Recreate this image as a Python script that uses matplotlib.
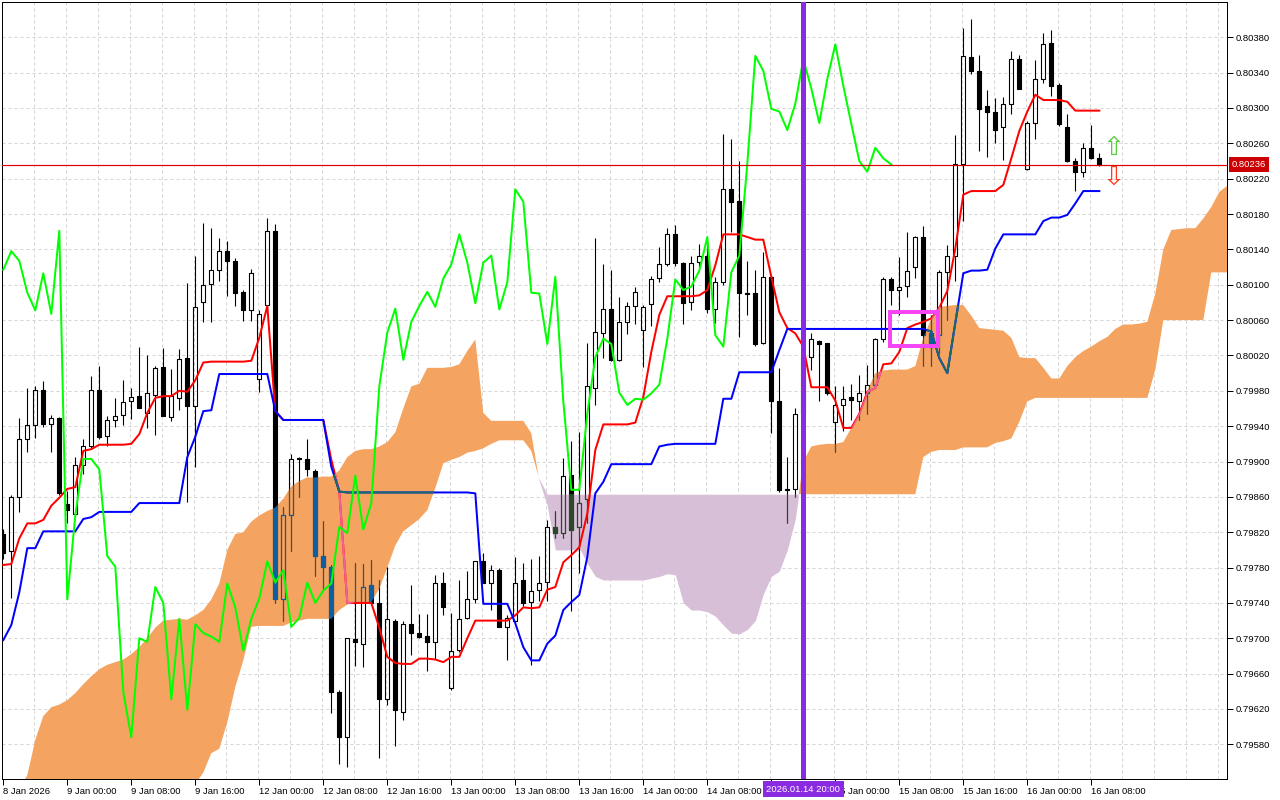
import numpy as np
import matplotlib
matplotlib.use("Agg")
import matplotlib.pyplot as plt
from matplotlib.collections import LineCollection, PolyCollection
from matplotlib.path import Path
from matplotlib.patches import Rectangle
import matplotlib.transforms as mtransforms

# ---------------- data (H1 bars, index 0 = 8 Jan 2026 16:00) ----------------
opens = [0.79818, 0.79799, 0.79860, 0.79926, 0.79941, 0.79981, 0.79943, 0.79949, 0.79852, 0.79841,
         0.79896, 0.79917, 0.79981, 0.79929, 0.79947, 0.79953, 0.79968, 0.79974, 0.79955, 0.79975,
         0.80007, 0.79950, 0.79972, 0.80017, 0.79963, 0.80081, 0.80101, 0.80117, 0.80138, 0.80127,
         0.80092, 0.80071, 0.79993, 0.80077, 0.80161, 0.79744, 0.79839, 0.79904, 0.79903, 0.79889,
         0.79793, 0.79781, 0.79639, 0.79588, 0.79699, 0.79694, 0.79760, 0.79740, 0.79631, 0.79720,
         0.79617, 0.79716, 0.79706, 0.79703, 0.79696, 0.79762, 0.79644, 0.79687, 0.79723, 0.79745,
         0.79787, 0.79763, 0.79777, 0.79713, 0.79719, 0.79766, 0.79741, 0.79755, 0.79764, 0.79826,
         0.79819, 0.79885, 0.79826, 0.79858, 0.79983, 0.80045, 0.80073, 0.80015, 0.80058, 0.80076,
         0.80049, 0.80078, 0.80108, 0.80123, 0.80157, 0.80125, 0.80080, 0.80126, 0.80133, 0.80072,
         0.80103, 0.80208, 0.80195, 0.80091, 0.80091, 0.80034, 0.80109, 0.79968, 0.79869, 0.79869,
         0.79954, 0.80018, 0.80036, 0.80034, 0.79945, 0.79964, 0.79973, 0.79969, 0.79977, 0.79987,
         0.80039, 0.80106, 0.80094, 0.80099, 0.80120, 0.80154, 0.80045, 0.80043, 0.80114, 0.80132,
         0.80237, 0.80358, 0.80342, 0.80302, 0.80296, 0.80278, 0.80305, 0.80355, 0.80231, 0.80283,
         0.80333, 0.80374, 0.80326, 0.80279, 0.80240, 0.80228, 0.80255, 0.80243]
highs = [0.79824, 0.79862, 0.79949, 0.79983, 0.79986, 0.79991, 0.79953, 0.79950, 0.79867, 0.79905,
         0.79926, 0.79997, 0.80008, 0.79952, 0.79972, 0.79992, 0.79983, 0.80030, 0.80021, 0.80008,
         0.80028, 0.80005, 0.80027, 0.80102, 0.80133, 0.80170, 0.80164, 0.80153, 0.80150, 0.80130,
         0.80094, 0.80118, 0.80071, 0.80175, 0.80169, 0.79849, 0.79908, 0.79905, 0.79925, 0.79892,
         0.79833, 0.79783, 0.79641, 0.79700, 0.79785, 0.79784, 0.79789, 0.79766, 0.79781, 0.79722,
         0.79720, 0.79760, 0.79728, 0.79727, 0.79772, 0.79775, 0.79729, 0.79766, 0.79776, 0.79788,
         0.79797, 0.79783, 0.79779, 0.79726, 0.79792, 0.79785, 0.79790, 0.79793, 0.79834, 0.79844,
         0.79904, 0.79923, 0.79933, 0.80034, 0.80153, 0.80123, 0.80117, 0.80086, 0.80080, 0.80098,
         0.80077, 0.80110, 0.80143, 0.80164, 0.80168, 0.80126, 0.80132, 0.80146, 0.80152, 0.80109,
         0.80271, 0.80265, 0.80240, 0.80127, 0.80117, 0.80137, 0.80111, 0.80006, 0.79905, 0.79961,
         0.80030, 0.80045, 0.80037, 0.80034, 0.79985, 0.79985, 0.79988, 0.79998, 0.80009, 0.80040,
         0.80109, 0.80109, 0.80131, 0.80160, 0.80155, 0.80167, 0.80066, 0.80117, 0.80145, 0.80269,
         0.80391, 0.80401, 0.80360, 0.80320, 0.80311, 0.80312, 0.80365, 0.80360, 0.80285, 0.80354,
         0.80385, 0.80388, 0.80328, 0.80293, 0.80243, 0.80260, 0.80281, 0.80249]
lows = [0.79790, 0.79746, 0.79843, 0.79911, 0.79927, 0.79939, 0.79911, 0.79862, 0.79830, 0.79841,
        0.79886, 0.79915, 0.79926, 0.79917, 0.79939, 0.79941, 0.79948, 0.79960, 0.79938, 0.79930,
        0.79951, 0.79946, 0.79958, 0.79854, 0.79894, 0.80058, 0.80058, 0.80104, 0.80087, 0.80076,
        0.80059, 0.80059, 0.79979, 0.80070, 0.79740, 0.79720, 0.79799, 0.79860, 0.79884, 0.79771,
        0.79756, 0.79616, 0.79558, 0.79554, 0.79669, 0.79667, 0.79738, 0.79564, 0.79625, 0.79578,
        0.79608, 0.79681, 0.79700, 0.79663, 0.79677, 0.79726, 0.79641, 0.79684, 0.79722, 0.79740,
        0.79762, 0.79732, 0.79713, 0.79675, 0.79717, 0.79737, 0.79670, 0.79742, 0.79742, 0.79813,
        0.79814, 0.79731, 0.79774, 0.79830, 0.79964, 0.80017, 0.80014, 0.80014, 0.80044, 0.80056,
        0.80007, 0.80053, 0.80103, 0.80121, 0.80121, 0.80056, 0.80071, 0.80120, 0.80068, 0.80057,
        0.80100, 0.80160, 0.80041, 0.80066, 0.80031, 0.80033, 0.79932, 0.79866, 0.79830, 0.79860,
        0.79950, 0.80003, 0.79969, 0.79975, 0.79911, 0.79935, 0.79947, 0.79947, 0.79954, 0.79985,
        0.80035, 0.80077, 0.80066, 0.80086, 0.80108, 0.80008, 0.80008, 0.80023, 0.80060, 0.80104,
        0.80172, 0.80338, 0.80251, 0.80244, 0.80260, 0.80241, 0.80293, 0.80321, 0.80230, 0.80265,
        0.80328, 0.80313, 0.80280, 0.80239, 0.80206, 0.80222, 0.80242, 0.80234]
closes = [0.79797, 0.79860, 0.79926, 0.79941, 0.79981, 0.79942, 0.79949, 0.79864, 0.79845, 0.79896,
          0.79917, 0.79981, 0.79928, 0.79947, 0.79952, 0.79967, 0.79973, 0.79960, 0.79977, 0.80006,
          0.79952, 0.79974, 0.80016, 0.79963, 0.80075, 0.80100, 0.80117, 0.80138, 0.80127, 0.80091,
          0.80071, 0.80113, 0.80067, 0.80161, 0.79744, 0.79839, 0.79903, 0.79903, 0.79891, 0.79793,
          0.79781, 0.79639, 0.79588, 0.79700, 0.79696, 0.79758, 0.79740, 0.79631, 0.79722, 0.79619,
          0.79716, 0.79706, 0.79702, 0.79696, 0.79762, 0.79735, 0.79686, 0.79722, 0.79745, 0.79787,
          0.79763, 0.79777, 0.79713, 0.79723, 0.79763, 0.79740, 0.79754, 0.79762, 0.79826, 0.79819,
          0.79884, 0.79823, 0.79853, 0.79985, 0.80046, 0.80073, 0.80015, 0.80058, 0.80076, 0.80092,
          0.80075, 0.80107, 0.80123, 0.80157, 0.80125, 0.80079, 0.80125, 0.80133, 0.80072, 0.80103,
          0.80208, 0.80194, 0.80091, 0.80090, 0.80033, 0.80109, 0.79968, 0.79868, 0.79868, 0.79954,
          0.80018, 0.80039, 0.80033, 0.79978, 0.79964, 0.79971, 0.79970, 0.79977, 0.79987, 0.80039,
          0.80106, 0.80094, 0.80098, 0.80116, 0.80154, 0.80043, 0.80030, 0.80114, 0.80133, 0.80237,
          0.80359, 0.80342, 0.80299, 0.80296, 0.80275, 0.80305, 0.80355, 0.80322, 0.80283, 0.80333,
          0.80372, 0.80325, 0.80282, 0.80240, 0.80228, 0.80255, 0.80243, 0.80236]

tenkan = [0.79783, 0.79784, 0.79813, 0.79830, 0.79830, 0.79834, 0.79850, 0.79859, 0.79869, 0.79871,
          0.79912, 0.79914, 0.79919, 0.79919, 0.79919, 0.79919, 0.79920, 0.79931, 0.79955, 0.79972,
          0.79974, 0.79974, 0.79980, 0.79979, 0.79992, 0.80012, 0.80013, 0.80013, 0.80013, 0.80013,
          0.80013, 0.80014, 0.80040, 0.80076, 0.79957, 0.79947, 0.79947, 0.79947, 0.79947, 0.79947,
          0.79947, 0.79902, 0.79866, 0.79740, 0.79740, 0.79740, 0.79740, 0.79712, 0.79679, 0.79672,
          0.79671, 0.79671, 0.79677, 0.79677, 0.79676, 0.79673, 0.79679, 0.79679, 0.79700, 0.79720,
          0.79720, 0.79720, 0.79720, 0.79720, 0.79726, 0.79735, 0.79734, 0.79735, 0.79755, 0.79758,
          0.79786, 0.79794, 0.79803, 0.79841, 0.79913, 0.79942, 0.79942, 0.79942, 0.79942, 0.79944,
          0.79973, 0.80024, 0.80066, 0.80087, 0.80087, 0.80087, 0.80087, 0.80088, 0.80094, 0.80122,
          0.80157, 0.80157, 0.80157, 0.80154, 0.80151, 0.80151, 0.80109, 0.80069, 0.80051, 0.80045,
          0.80030, 0.79984, 0.79984, 0.79984, 0.79969, 0.79938, 0.79938, 0.79954, 0.79979, 0.79983,
          0.80010, 0.80011, 0.80024, 0.80051, 0.80055, 0.80058, 0.80062, 0.80074, 0.80093, 0.80141,
          0.80202, 0.80206, 0.80206, 0.80206, 0.80206, 0.80213, 0.80243, 0.80274, 0.80296, 0.80315,
          0.80309, 0.80309, 0.80309, 0.80307, 0.80297, 0.80297, 0.80297, 0.80297]
kijun = ([0.79698, 0.79715, 0.79752, 0.79802, 0.79802, 0.79821, 0.79821, 0.79821, 0.79821, 0.79821,
          0.79835, 0.79837, 0.79843, 0.79843, 0.79843, 0.79843, 0.79843, 0.79853, 0.79853, 0.79853,
          0.79853, 0.79853, 0.79853, 0.79905, 0.79928, 0.79957, 0.79958, 0.79999, 0.79999, 0.79999,
          0.79999, 0.79999, 0.79999, 0.79999, 0.79957, 0.79947, 0.79947, 0.79947, 0.79947, 0.79947,
          0.79947, 0.79894, 0.79866]
         + [0.79865] * 16 +
         [0.79864, 0.79739, 0.79739, 0.79739, 0.79739, 0.79717, 0.79690, 0.79675, 0.79675, 0.79694,
          0.79703, 0.79732, 0.79741, 0.79749, 0.79792, 0.79864, 0.79877, 0.79897, 0.79897, 0.79897,
          0.79897, 0.79897, 0.79897, 0.79917, 0.79919, 0.79920, 0.79920, 0.79920, 0.79920, 0.79920,
          0.79920, 0.79971, 0.79971, 0.80001, 0.80001, 0.80001, 0.80001, 0.80001, 0.80026]
         + [0.80050] * 18 +
         [0.80047, 0.80017, 0.80000, 0.80057, 0.80113, 0.80116, 0.80116, 0.80117, 0.80141, 0.80157,
          0.80157, 0.80157, 0.80157, 0.80157, 0.80172, 0.80176, 0.80176, 0.80179, 0.80192, 0.80206,
          0.80206, 0.80206])
span_a = [0.79510, 0.79520, 0.79530, 0.79545, 0.79585, 0.79612, 0.79622, 0.79625, 0.79630, 0.79638,
          0.79648, 0.79657, 0.79665, 0.79670, 0.79673, 0.79676, 0.79682, 0.79690, 0.79700, 0.79712,
          0.79720, 0.79721, 0.79722, 0.79721, 0.79726, 0.79732, 0.79744, 0.79762, 0.79800, 0.79818,
          0.79820, 0.79832, 0.79839, 0.79844, 0.79848, 0.79858, 0.79872, 0.79878, 0.79882, 0.79882,
          0.79883, 0.79883, 0.79890, 0.79905, 0.79912, 0.79914, 0.79914, 0.79917, 0.79922, 0.79933,
          0.79960, 0.79985, 0.79988, 0.80006, 0.80006, 0.80006, 0.80007, 0.80010, 0.80025, 0.80038,
          0.79955, 0.79946, 0.79946, 0.79946, 0.79946, 0.79946, 0.79932, 0.79878, 0.79850, 0.79800,
          0.79800, 0.79800, 0.79802, 0.79785, 0.79770, 0.79766, 0.79766, 0.79766, 0.79766, 0.79766,
          0.79766, 0.79768, 0.79770, 0.79773, 0.79772, 0.79740, 0.79732, 0.79732, 0.79730, 0.79725,
          0.79715, 0.79706, 0.79705, 0.79710, 0.79720, 0.79750, 0.79770, 0.79776, 0.79800, 0.79835,
          0.79900, 0.79917, 0.79919, 0.79920, 0.79920, 0.79922, 0.79938, 0.79955, 0.79980, 0.80000,
          0.80003, 0.80004, 0.80004, 0.80004, 0.80008, 0.80040, 0.80062, 0.80075, 0.80076, 0.80077,
          0.80077, 0.80065, 0.80051, 0.80050, 0.80049, 0.80048, 0.80040, 0.80018, 0.80017, 0.80017,
          0.80006, 0.79994, 0.79994, 0.80008, 0.80018, 0.80025, 0.80030, 0.80036, 0.80041, 0.80050,
          0.80055, 0.80055, 0.80056, 0.80058, 0.80090, 0.80140, 0.80162, 0.80163, 0.80164, 0.80164,
          0.80175, 0.80188, 0.80205, 0.80212]
span_b = ([0.79500] * 24 +
          [0.79535, 0.79548, 0.79570, 0.79575, 0.79605, 0.79645,
           0.79675, 0.79713, 0.79714, 0.79714, 0.79714, 0.79714, 0.79718, 0.79720, 0.79722, 0.79722,
           0.79722, 0.79722, 0.79732, 0.79738, 0.79741, 0.79741, 0.79741, 0.79756, 0.79780, 0.79805,
           0.79821, 0.79828, 0.79835, 0.79845, 0.79870, 0.79898, 0.79902, 0.79905, 0.79910, 0.79912,
           0.79915, 0.79920, 0.79924, 0.79924, 0.79924, 0.79924, 0.79912, 0.79880]
          + [0.79863] * 47 +
          [0.79905, 0.79911, 0.79913, 0.79913, 0.79913,
           0.79916, 0.79916, 0.79916, 0.79916, 0.79921, 0.79923, 0.79926, 0.79945, 0.79968]
          + [0.79972] * 15 +
          [0.80004, 0.80060, 0.80060, 0.80060, 0.80060, 0.80060, 0.80060, 0.80114, 0.80114, 0.80114])

tick_idx = [0, 8, 16, 24, 32, 40, 48, 56, 64, 72, 80, 88, 96, 104, 112, 120, 128, 136]
# the 14 Jan 16:00 label sits under the vertical-line time box in the reference
tick_labels = ["8 Jan 2026", "9 Jan 00:00", "9 Jan 08:00", "9 Jan 16:00", "12 Jan 00:00",
               "12 Jan 08:00", "12 Jan 16:00", "13 Jan 00:00", "13 Jan 08:00", "13 Jan 16:00",
               "14 Jan 00:00", "14 Jan 08:00", "", "15 Jan 00:00", "15 Jan 08:00",
               "15 Jan 16:00", "16 Jan 00:00", "16 Jan 08:00"]
price_ticks = [0.79580, 0.79620, 0.79660, 0.79700, 0.79740, 0.79780, 0.79820, 0.79860, 0.79900,
               0.79940, 0.79980, 0.80020, 0.80060, 0.80100, 0.80140, 0.80180, 0.80220, 0.80260,
               0.80300, 0.80340, 0.80380]
last_price = 0.80236
vline_idx = 100
vline_label = "2026.01.14 20:00"
chikou_shift = 26

# ---------------- figure ----------------
plt.rcParams['font.family'] = ['Liberation Sans', 'DejaVu Sans']
PX = 0.72  # one pixel in points at 100 dpi

fig = plt.figure(figsize=(12.8, 8), dpi=100)
ax = fig.add_axes([2 / 1280, 21 / 800, 1225 / 1280, 777 / 800])
ax.set_xlim(-0.1625, 152.96)
ax.set_ylim(0.795408, 0.804199)

o = np.array(opens); h = np.array(highs); l = np.array(lows); c = np.array(closes)
n = len(o)
xs = np.arange(n)

# grid
for p in price_ticks:
    ax.axhline(p, color='#d4d4d4', lw=PX, ls=(0, (3, 3)), zorder=0)
for k in range(0, 40):
    ax.axvline(4 * k - 0.125, color='#d4d4d4', lw=PX, ls=(0, (3, 3)), zorder=0)

# cloud
A = np.array(span_a); B = np.array(span_b)
xc = np.arange(len(A))
orange = ax.fill_between(xc, A, B, where=A >= B, interpolate=True, color='#f4a460', lw=0, zorder=1)
thist = ax.fill_between(xc, A, B, where=A < B, interpolate=True, color='#d8bfd8', lw=0, zorder=1)
opath = Path.make_compound_path(*orange.get_paths())
tpath = Path.make_compound_path(*thist.get_paths())

hw = 0.27


def draw_candles(col, z, clip=None):
    segs, verts, fcs = [], [], []
    for i in range(n):
        top, bot = max(o[i], c[i]), min(o[i], c[i])
        segs.append([(i, h[i]), (i, top)])
        segs.append([(i, bot), (i, l[i])])
        verts.append([(i - hw, bot), (i + hw, bot), (i + hw, top), (i - hw, top)])
        fcs.append(col if c[i] < o[i] else 'none')
    lc = LineCollection(segs, colors=col, linewidths=PX * 1.1, zorder=z)
    pc = PolyCollection(verts, facecolors=fcs, edgecolors=col, linewidths=PX * 1.1, zorder=z)
    ax.add_collection(lc)
    ax.add_collection(pc)
    if clip is not None:
        lc.set_clip_path(clip, ax.transData)
        pc.set_clip_path(clip, ax.transData)


draw_candles('black', 2)
draw_candles('#0d5fa3', 2.1, opath)
draw_candles('#2b482b', 2.1, tpath)

# Ichimoku lines
LW = 2 * PX
ax.plot(xs, tenkan, color='#ff0000', lw=LW, zorder=3)
ax.plot(xs, kijun, color='#0000ff', lw=LW, zorder=3.1)
t2, = ax.plot(xs, tenkan, color='#f0629a', lw=LW, zorder=3.05)
k2, = ax.plot(xs, kijun, color='#1b6a6a', lw=LW, zorder=3.15)
t2.set_clip_path(opath, ax.transData)
k2.set_clip_path(opath, ax.transData)
ax.plot(xs[:-chikou_shift], c[chikou_shift:], color='#00ff00', lw=LW, zorder=3.2)

# current price line
ax.axhline(last_price, color='#e00000', lw=1.2 * PX, zorder=3.5)

# vertical purple line
ax.axvline(vline_idx, color='#8a2be2', lw=5 * PX, zorder=4)

# magenta box
ax.add_patch(Rectangle((110.85, 0.80031), 6.0, 0.00038, fill=False,
                       edgecolor='#f545f5', lw=4 * PX, zorder=5))

# arrows
ax.text(138.8, 0.80255, "\u21e7", color='#58cc3a', fontsize=19, ha='center', va='center',
        family='DejaVu Sans', zorder=6)
ax.text(138.8, 0.80221, "\u21e9", color='#ff3a22', fontsize=19, ha='center', va='center',
        family='DejaVu Sans', zorder=6)

# axes styling
for s in ax.spines.values():
    s.set_linewidth(PX)
    s.set_color('black')
ax.yaxis.tick_right()
ax.set_yticks(price_ticks)
ax.set_yticklabels([f"{p:.5f}" for p in price_ticks])
ax.tick_params(axis='y', direction='out', length=4, width=PX, pad=2, labelsize=6.8)
ax.set_xticks(tick_idx)
ax.set_xticklabels(tick_labels)
for lbl in ax.get_xticklabels():
    lbl.set_horizontalalignment('left')
ax.tick_params(axis='x', direction='out', length=4, width=PX, pad=2, labelsize=6.8)

# price label on the right
trans = mtransforms.blended_transform_factory(ax.transAxes, ax.transData)
ax.text(1.0 + 5 / 1225, last_price, f"{last_price:.5f}", transform=trans, ha='left', va='center',
        color='white', fontsize=6.8, clip_on=False, zorder=10,
        bbox=dict(boxstyle='square,pad=0.3', fc='#cc0000', ec='none'))

# vertical line time label
trans2 = mtransforms.blended_transform_factory(ax.transData, fig.transFigure)
fig.text(vline_idx, 11 / 800, vline_label, transform=trans2, ha='center', va='center',
         color='white', fontsize=6.8, zorder=10,
         bbox=dict(boxstyle='square,pad=0.35', fc='#8a2be2', ec='none'))

fig.savefig("out.png", dpi=100, facecolor='white')
